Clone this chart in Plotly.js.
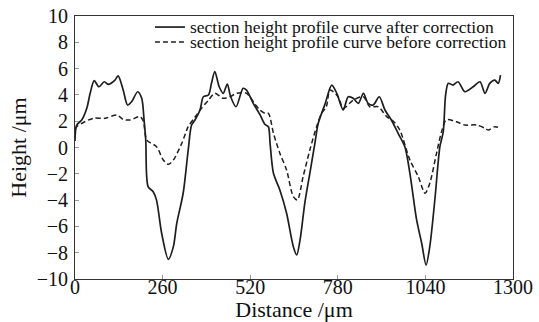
<!DOCTYPE html>
<html>
<head>
<meta charset="utf-8">
<script src="https://cdn.plot.ly/plotly-3.0.1.min.js"></script>
<style>html,body{margin:0;padding:0;background:#fff}#chart{width:539px;height:322px}</style>
</head>
<body>
<div id="chart"></div>
<script>
// Series after correction (solid)
const afterX = [0, 5, 20, 35, 45, 57, 71, 87, 99, 117, 128, 143, 156, 168, 186, 198, 205, 210, 217, 232, 242, 257, 277, 292, 302, 321, 336, 346, 356, 371, 381, 396, 405, 415, 428, 440, 452, 462, 478, 499, 509, 529, 549, 564, 574, 579, 589, 608, 628, 648, 658, 668, 682, 697, 712, 722, 742, 762, 777, 796, 811, 826, 841, 856, 870, 885, 903, 920, 939, 959, 979, 994, 1014, 1029, 1042, 1053, 1068, 1083, 1093, 1100, 1108, 1122, 1137, 1157, 1182, 1202, 1217, 1231, 1246, 1256, 1263];
const afterY = [0.5, 1.71, 2.09, 2.98, 4.12, 5.08, 4.62, 5.0, 4.8, 5.08, 5.44, 4.37, 3.23, 3.48, 4.24, 3.74, 2.09, 0.57, -2.98, -3.36, -4.0, -6.5, -8.5, -7.54, -5.77, -3.48, -0.19, 1.71, 2.09, 2.85, 3.86, 3.99, 4.88, 5.77, 4.62, 4.12, 4.83, 3.86, 3.1, 4.5, 4.37, 3.36, 2.5, 1.75, 1.58, 0.32, -1.96, -3.23, -5.0, -7.54, -8.17, -7.03, -4.24, -1.96, 0.32, 1.84, 3.3, 4.75, 4.12, 2.85, 3.86, 3.74, 3.36, 4.12, 3.36, 3.23, 3.86, 2.85, 2.09, 1.08, 0.06, -1.96, -5.51, -7.28, -8.94, -7.54, -3.99, 0.06, 1.2, 4.0, 4.88, 4.75, 5.0, 4.24, 4.62, 5.0, 4.12, 4.88, 5.13, 4.88, 5.51];
// Series before correction (dashed)
const beforeX = [0, 5, 20, 54, 89, 124, 143, 163, 193, 203, 213, 242, 262, 277, 292, 317, 336, 356, 376, 396, 415, 440, 460, 480, 509, 534, 549, 564, 574, 589, 608, 628, 648, 660, 677, 697, 717, 732, 746, 757, 781, 796, 826, 856, 875, 900, 925, 945, 964, 994, 1019, 1039, 1053, 1073, 1088, 1102, 1132, 1157, 1192, 1217, 1227, 1246, 1263];
const beforeY = [1.4, 1.58, 1.84, 2.22, 2.22, 2.47, 2.14, 2.09, 2.35, 2.0, 0.57, 0.06, -0.95, -1.28, -0.95, 0.32, 1.58, 2.3, 3.0, 3.6, 4.12, 3.74, 3.86, 4.12, 4.12, 3.3, 2.85, 2.6, 2.6, 1.08, -0.44, -1.71, -3.74, -3.99, -2.22, -0.19, 1.58, 2.6, 3.1, 4.37, 3.86, 2.98, 3.6, 3.86, 3.1, 3.1, 2.35, 2.0, 1.33, -0.95, -2.22, -3.48, -2.72, -0.44, 1.2, 2.1, 1.96, 1.71, 1.71, 1.46, 1.33, 1.58, 1.46];
const seriesNames = ["section height profile curve after correction", "section height profile curve before correction"];
const xTicks = [0, 260, 520, 780, 1040, 1300];
const yTicks = [-10, -8, -6, -4, -2, 0, 2, 4, 6, 8, 10];

const FONT = "'Liberation Serif', 'Times New Roman', serif";
const INK = '#1e1e1e';
const solidLine = {color: INK, width: 1.7};
const dashLine = {color: INK, width: 1.5, dash: '5px,3px'};
const traces = [
  {x: afterX, y: afterY, name: seriesNames[0], type: 'scatter', mode: 'lines',
   line: Object.assign({shape: 'spline', smoothing: 0.8}, solidLine)},
  {x: beforeX, y: beforeY, name: seriesNames[1], type: 'scatter', mode: 'lines',
   line: Object.assign({shape: 'spline', smoothing: 0.8}, dashLine)},
  // empty trace so the label axis exists
  {x: [], y: [], xaxis: 'x2', yaxis: 'y', type: 'scatter', mode: 'lines', showlegend: false, hoverinfo: 'skip'}
];
const tickFont = {family: FONT, size: 20, color: '#111'};
const titleFont = {family: FONT, size: 22, color: '#111'};

// manual legend (paper coordinates)
const legRows = [0.958, 0.901];
const legLineX = [0.1826, 0.2511];
const legTextX = 0.2626;
const shapes = [solidLine, dashLine].map((ln, i) => ({
  type: 'line', xref: 'paper', yref: 'paper', x0: legLineX[0], x1: legLineX[1], y0: legRows[i], y1: legRows[i],
  line: ln
}));
const annotations = seriesNames.map((t, i) => ({
  text: t, xref: 'paper', yref: 'paper', x: legTextX, y: legRows[i], xanchor: 'left', yanchor: 'middle',
  showarrow: false, xshift: -2, font: {family: FONT, size: 17.5, color: '#111'}
}));

const layout = {
  width: 539, height: 322,
  margin: {l: 75, r: 26, t: 16, b: 43},
  paper_bgcolor: '#fff', plot_bgcolor: '#fff',
  font: {family: FONT, color: '#111'},
  showlegend: false,
  xaxis: {
    range: [0, 1300], tickvals: xTicks, showticklabels: false,
    showgrid: false, zeroline: false, showline: true, linecolor: '#333', linewidth: 1,
    mirror: true, ticks: 'inside', ticklen: 4, tickcolor: '#999', tickwidth: 1
  },
  xaxis2: {
    overlaying: 'x', anchor: 'free', position: 0.024, side: 'bottom',
    range: [0, 1300], tickvals: xTicks, ticktext: xTicks.map(String),
    showgrid: false, zeroline: false, showline: false, ticks: '',
    tickfont: tickFont,
    title: {text: 'Distance /μm', font: titleFont, standoff: 4}
  },
  yaxis: {
    range: [-10, 10], tickvals: yTicks,
    showgrid: false, zeroline: false, showline: true, linecolor: '#333', linewidth: 1,
    mirror: true, ticks: 'inside', ticklen: 4, tickcolor: '#999', tickwidth: 1,
    tickfont: tickFont, ticklabelstandoff: 2,
    title: {text: 'Height /μm', font: titleFont, standoff: 4}
  },
  shapes: shapes,
  annotations: annotations
};
Plotly.newPlot('chart', traces, layout, {displayModeBar: false, staticPlot: true});
</script>
</body>
</html>
